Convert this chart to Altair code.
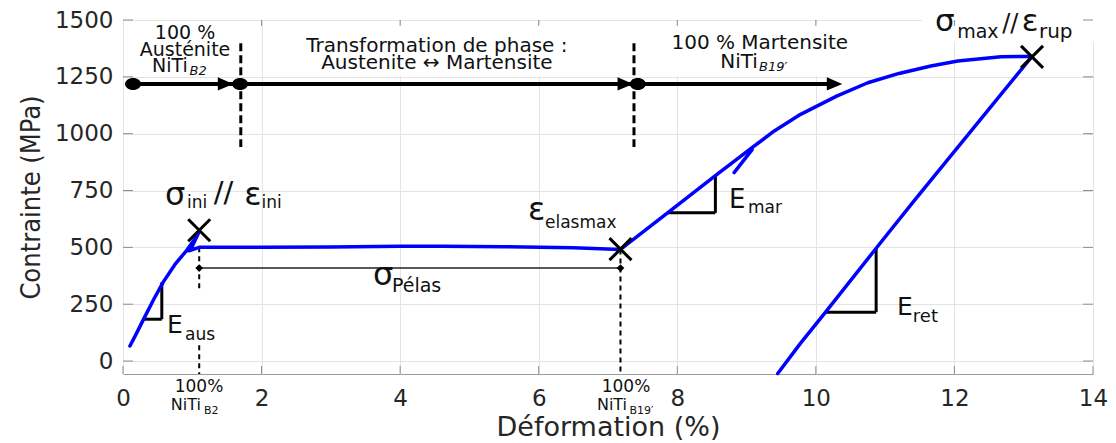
import altair as alt
import pandas as pd

# ---------------- data ----------------
# loading + plateau (austenite -> martensite), one continuous path
charge_strain = [0.10, 0.20, 0.29, 0.45, 0.58, 0.75, 0.92, 1.02, 1.10, 1.00, 0.95,
                 1.10, 2.0, 3.0, 4.0, 4.6, 5.5, 6.5, 7.18]
charge_stress = [66, 125, 180, 275, 347, 425, 487, 530, 570, 505, 485,
                 500, 500, 502, 505, 505, 503, 498, 491]
# martensite loading up to rupture
mart_strain = [7.18, 7.86, 8.55, 9.06, 9.40, 9.78, 10.3, 10.75, 11.2,
               11.66, 12.05, 12.67, 13.12]
mart_stress = [491, 652, 816, 934, 1012, 1085, 1165, 1224, 1265,
               1298, 1320, 1338, 1340]
# small kink on the martensite branch
kink_strain = [8.82, 9.08]
kink_stress = [829, 930]
# elastic return after rupture
ret_strain = [13.12, 11.42, 10.87, 10.14, 9.78, 9.45]
ret_stress = [1340, 706, 496, 215, 79, -55]

# characteristic points (x markers)
pt_strain = [1.10, 7.18, 13.12]
pt_stress = [575, 492, 1338]

x_ticks = [0, 2, 4, 6, 8, 10, 12, 14]
y_ticks = [0, 250, 500, 750, 1000, 1250, 1500]

XDOM = [0, 14]
YDOM = [-57, 1500]

BLUE = "#0000ff"
FONT = "DejaVu Sans"
TXT = "#111111"

# ---------------- tables ----------------
curve = pd.concat([
    pd.DataFrame({"strain": charge_strain, "stress": charge_stress, "seg": "charge"}),
    pd.DataFrame({"strain": mart_strain, "stress": mart_stress, "seg": "mart"}),
    pd.DataFrame({"strain": kink_strain, "stress": kink_stress, "seg": "kink"}),
    pd.DataFrame({"strain": ret_strain, "stress": ret_stress, "seg": "ret"}),
], ignore_index=True)
curve["o"] = range(len(curve))

pts = pd.DataFrame({"strain": pt_strain, "stress": pt_stress})

xs = alt.Scale(domain=XDOM, nice=False, zero=False)
ys = alt.Scale(domain=YDOM, nice=False, zero=False)

xaxis = alt.Axis(values=x_ticks, grid=True, gridColor="#e4e4e4", domain=False, ticks=False,
                 labelFontSize=23, labelFont=FONT, labelColor="#262626", labelPadding=13,
                 labelFlush=False, labelOverlap=False, format="d",
                 titleFontSize=27, titleFont=FONT, titleColor="#262626",
                 titleFontWeight="normal", titlePadding=4)
yaxis = alt.Axis(values=y_ticks, grid=True, gridColor="#e4e4e4", domain=False, ticks=False,
                 labelFontSize=23, labelFont=FONT, labelColor="#262626", labelPadding=10,
                 labelOverlap=False, format="d",
                 titleFontSize=27, titleFont="DejaVu Sans Condensed, Liberation Sans Narrow, DejaVu Sans",
                 titleColor="#262626", titleFontWeight="normal", titlePadding=9)


def X(f="strain"):
    return alt.X(f"{f}:Q", scale=xs, axis=xaxis, title="Déformation (%)")


def Y(f="stress"):
    return alt.Y(f"{f}:Q", scale=ys, axis=yaxis, title="Contrainte (MPa)")


# white boxes behind annotation blocks
boxes = pd.DataFrame({
    "strain": [0.03, 2.41, 7.53, 11.53],
    "strain2": [1.63, 6.67, 10.67, 14.3],
    "stress": [1253, 1253, 1253, 1403],
    "stress2": [1485, 1485, 1485, 1600],
})
box_layer = alt.Chart(boxes).mark_rect(color="white").encode(
    x=X(), x2="strain2:Q", y=Y(), y2="stress2:Q")

# inward ticks
tk_left = pd.DataFrame({"strain": 0.0, "strain2": 0.144, "stress": y_ticks})
tk_right = pd.DataFrame({"strain": 13.856, "strain2": 14.0, "stress": y_ticks})
tk_bot = pd.DataFrame({"strain": x_ticks, "stress": -57, "stress2": -22})
tk_top = pd.DataFrame({"strain": x_ticks[1:-1], "stress": 1474, "stress2": 1500})
tick_col = "#8c8c8c"
ticks = [
    alt.Chart(tk_left).mark_rule(color=tick_col).encode(x=X(), x2="strain2:Q", y=Y()),
    alt.Chart(tk_right).mark_rule(color=tick_col).encode(x=X(), x2="strain2:Q", y=Y()),
    alt.Chart(tk_bot).mark_rule(color=tick_col).encode(x=X(), y=Y(), y2="stress2:Q"),
    alt.Chart(tk_top).mark_rule(color=tick_col).encode(x=X(), y=Y(), y2="stress2:Q"),
]

# phase arrow at the top
arrow_line = pd.DataFrame({"strain": [0.145], "strain2": [10.3], "stress": [1219]})
arrow_dots = pd.DataFrame({"strain": [0.145, 1.69, 7.43], "stress": [1219] * 3})
arrow_heads = pd.DataFrame({"strain": [1.48, 7.25, 10.27], "stress": [1219] * 3})
phase_dash = pd.DataFrame({"strain": [1.70, 7.375], "stress": [1398, 1398], "stress2": [941, 941]})

arrow_layers = [
    alt.Chart(arrow_line).mark_rule(color="black", strokeWidth=4).encode(x=X(), x2="strain2:Q", y=Y()),
    alt.Chart(phase_dash).mark_rule(color="black", strokeWidth=3, strokeDash=[8, 4]).encode(
        x=X(), y=Y(), y2="stress2:Q"),
    alt.Chart(arrow_dots).mark_point(shape="M-1,0A1,0.75 0 1,0 1,0A1,0.75 0 1,0 -1,0Z",
                                     filled=True, color="black", size=256, opacity=1).encode(x=X(), y=Y()),
    alt.Chart(arrow_heads).mark_point(shape="M-1,-0.85L1,0L-1,0.85Z", filled=True, color="black",
                                      size=240, opacity=1).encode(x=X(), y=Y()),
]

# measurement lines (sigma Pelas)
meas_line = pd.DataFrame({"strain": [1.10], "strain2": [7.18], "stress": [409]})
meas_pts = pd.DataFrame({"strain": [1.10, 7.18], "stress": [409, 409]})
meas_dash = pd.DataFrame({"strain": [1.10, 1.10, 7.18], "stress": [500, 70, 491], "stress2": [312, -57, -57]})
meas_layers = [
    alt.Chart(meas_dash).mark_rule(color="black", strokeWidth=2, strokeDash=[5, 4]).encode(
        x=X(), y=Y(), y2="stress2:Q"),
    alt.Chart(meas_line).mark_rule(color="#222222", strokeWidth=1.5).encode(x=X(), x2="strain2:Q", y=Y()),
    alt.Chart(meas_pts).mark_point(shape="diamond", filled=True, color="black", size=60, opacity=1).encode(
        x=X(), y=Y()),
]

# slope triangles
tri_v = pd.DataFrame({"strain": [0.56, 8.55, 10.87], "stress": [346, 816, 496], "stress2": [184, 652, 215]})
tri_h = pd.DataFrame({"strain": [0.29, 7.86, 10.14], "strain2": [0.56, 8.55, 10.87], "stress": [184, 652, 215]})
tri_layers = [
    alt.Chart(tri_v).mark_rule(color="black", strokeWidth=3).encode(x=X(), y=Y(), y2="stress2:Q"),
    alt.Chart(tri_h).mark_rule(color="black", strokeWidth=3).encode(x=X(), x2="strain2:Q", y=Y()),
]

# curve
curve_layer = alt.Chart(curve).mark_line(color=BLUE, strokeWidth=3.5, strokeJoin="round",
                                         strokeCap="round").encode(
    x=X(), y=Y(), detail="seg:N", order="o:Q")

pts_layer = alt.Chart(pts).mark_point(shape="M-1,-1L1,1M1,-1L-1,1", filled=False, color="black",
                                      strokeWidth=3, size=484, opacity=1).encode(x=X(), y=Y())

# text annotations
sym_txt = pd.DataFrame([
    ("σ", 0.606, 686, 32), ("ini", 0.924, 673, 17), ("//", 1.31, 700, 29),
    ("ε", 1.75, 686, 32), ("ini", 2.0, 673, 17),
    ("ε", 5.845, 620, 32), ("elasmax", 6.09, 585, 17),
    ("E", 8.746, 673, 26), ("mar", 9.02, 651, 17),
    ("E", 0.635, 123, 25), ("aus", 0.895, 92, 17),
    ("E", 11.17, 202, 25), ("ret", 11.40, 171, 18),
    ("σ", 3.608, 334, 32), ("Pélas", 3.882, 305, 19),
    ("σ", 11.72, 1452, 31), ("max", 12.04, 1423, 19), ("//", 12.69, 1450, 24),
    ("ε", 12.97, 1452, 31), ("rup", 13.22, 1423, 20),
], columns=["t", "strain", "stress", "s"])

ctr_txt = pd.DataFrame([
    ("100 %", 0.895, 1442, 19), ("Austénite", 0.895, 1368, 19),
    ("Transformation de phase :", 4.53, 1385, 20), ("Austenite ↔ Martensite", 4.53, 1310, 20),
    ("100 % Martensite", 9.19, 1398, 20),
    ("100%", 1.097, -114, 17), ("100%", 7.26, -114, 17),
], columns=["t", "strain", "stress", "s"])

left_txt = pd.DataFrame([
    ("NiTi", 0.42, 1297, 19), ("NiTi", 8.62, 1315, 20),
    ("NiTi", 0.69, -193, 16), ("B2", 1.17, -220, 11),
    ("NiTi", 6.84, -193, 16), ("B19′", 7.31, -220, 11),
], columns=["t", "strain", "stress", "s"])

ital_txt = pd.DataFrame([
    ("B2", 0.96, 1275, 13), ("B19′", 9.18, 1293, 13),
], columns=["t", "strain", "stress", "s"])

size_enc = alt.Size("s:Q", scale=None, legend=None)
text_layers = [
    alt.Chart(sym_txt).mark_text(align="left", baseline="alphabetic", font=FONT, color=TXT).encode(
        x=X(), y=Y(), text="t:N", size=size_enc),
    alt.Chart(ctr_txt).mark_text(align="center", baseline="middle", font=FONT, color=TXT).encode(
        x=X(), y=Y(), text="t:N", size=size_enc),
    alt.Chart(left_txt).mark_text(align="left", baseline="middle", font=FONT, color=TXT).encode(
        x=X(), y=Y(), text="t:N", size=size_enc),
    alt.Chart(ital_txt).mark_text(align="left", baseline="middle", font=FONT, color=TXT,
                                  fontStyle="italic").encode(
        x=X(), y=Y(), text="t:N", size=size_enc),
]

chart = alt.layer(
    box_layer, *ticks, *arrow_layers, *meas_layers, *tri_layers, curve_layer, pts_layer, *text_layers
).properties(
    width=970, height=354,
    padding={"left": 115, "top": 12, "right": 15, "bottom": 70},
    autosize=alt.AutoSizeParams(type="none"),
).configure_view(stroke="#9a9a9a", strokeWidth=1)

chart.save("out.html", embed_options={"renderer": "svg", "actions": False})
